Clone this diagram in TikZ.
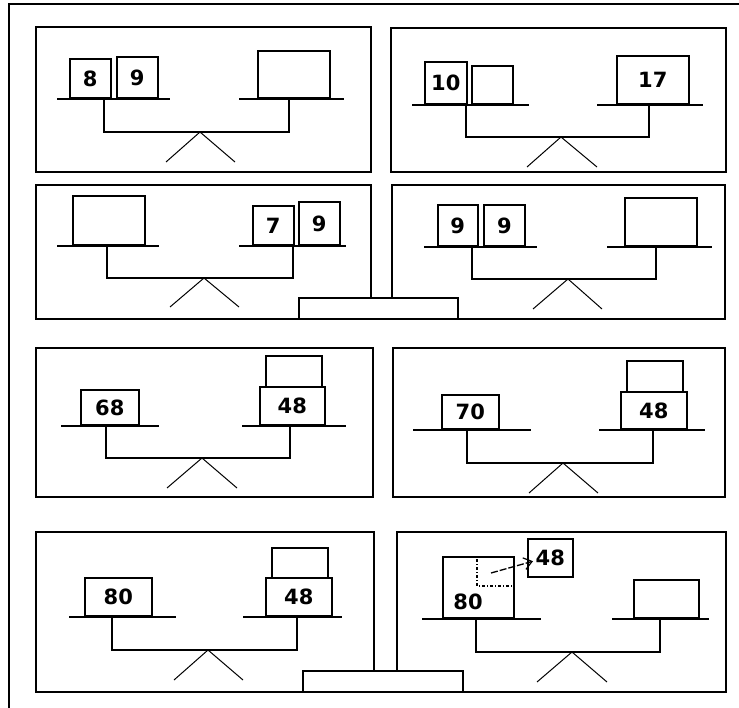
\documentclass[tikz,border=0pt]{standalone}
\usepackage{fontspec}
\newfontfamily\numfont{DejaVu Sans}
\usetikzlibrary{arrows.meta}
\begin{document}
\begin{tikzpicture}[x=1pt,y=-1pt,
  frame/.style={line width=1.6pt,line join=miter},
  pan/.style={line width=1.5pt},
  beam/.style={line width=1.6pt},
  leg/.style={line width=1pt},
  wbox/.style={draw,line width=1.6pt,fill=white,inner sep=0pt,anchor=south west,
     font=\numfont\bfseries\fontsize{21}{21}\selectfont},
  num/.style={inner sep=0pt,font=\numfont\bfseries\fontsize{21}{21}\selectfont},
  dotl/.style={line width=1.2pt,dash pattern=on 3pt off 2pt on 1pt off 2pt},
  movearrow/.style={line width=1.3pt,dash pattern=on 7pt off 2pt,-{Straight Barb[length=8pt,width=12pt,line width=1.2pt]}}
]
\useasboundingbox (0,0) rectangle (739,708);
% outer frame
\draw[frame] (9,708) -- (9,4) -- (739,4);
% panels
\draw[frame] (36,27) rectangle (371,172);
\draw[frame] (391,28) rectangle (726,172);
\draw[frame] (36,185) rectangle (371,319);
\draw[frame] (392,185) rectangle (725,319);
\draw[frame] (36,348) rectangle (373,497);
\draw[frame] (393,348) rectangle (725,497);
\draw[frame] (36,532) rectangle (374,692);
\draw[frame] (397,532) rectangle (726,692);
% stands
\draw[frame,fill=white] (299,298) rectangle (458,319);
\draw[frame,fill=white] (303,671) rectangle (463,692);

% ---------- Panel 1
\draw[pan] (57,99) -- (170,99);
\draw[pan] (239,99) -- (344,99);
\draw[beam] (104,99) -- (104,132) -- (289,132) -- (289,99);
\draw[leg] (166,162) -- (200,132) -- (235,162);
\node[wbox,minimum width=41pt,minimum height=39pt] (p1a) at (69,99) {8};
\node[wbox,minimum width=41pt,minimum height=41pt] (p1b) at (116,99) {9};
\node[wbox,minimum width=72pt,minimum height=47pt] (p1c) at (257,99) {};

% ---------- Panel 2
\draw[pan] (412,105) -- (529,105);
\draw[pan] (597,105) -- (703,105);
\draw[beam] (466,105) -- (466,137) -- (649,137) -- (649,105);
\draw[leg] (527,167) -- (561,137) -- (597,167);
\node[wbox,minimum width=42pt,minimum height=42pt] (p2a) at (424,105) {10};
\node[wbox,minimum width=41pt,minimum height=38pt] (p2b) at (471,105) {};
\node[wbox,minimum width=72pt,minimum height=48pt] (p2c) at (616,105) {17};

% ---------- Panel 3
\draw[pan] (57,246) -- (159,246);
\draw[pan] (239,246) -- (346,246);
\draw[beam] (107,246) -- (107,278) -- (293,278) -- (293,246);
\draw[leg] (170,307) -- (204,278) -- (239,307);
\node[wbox,minimum width=72pt,minimum height=49pt] (p3a) at (72,246) {};
\node[wbox,minimum width=41pt,minimum height=39pt] (p3b) at (252,246) {7};
\node[wbox,minimum width=41pt,minimum height=43pt] (p3c) at (298,246) {9};

% ---------- Panel 4
\draw[pan] (424,247) -- (537,247);
\draw[pan] (607,247) -- (712,247);
\draw[beam] (472,247) -- (472,279) -- (656,279) -- (656,247);
\draw[leg] (533,309) -- (568,279) -- (602,309);
\node[wbox,minimum width=40pt,minimum height=41pt] (p4a) at (437,247) {9};
\node[wbox,minimum width=41pt,minimum height=41pt] (p4b) at (483,247) {9};
\node[wbox,minimum width=72pt,minimum height=48pt] (p4c) at (624,247) {};

% ---------- Panel 5
\draw[pan] (61,426) -- (159,426);
\draw[pan] (242,426) -- (346,426);
\draw[beam] (106,426) -- (106,458) -- (290,458) -- (290,426);
\draw[leg] (167,488) -- (202,458) -- (237,488);
\node[wbox,minimum width=58pt,minimum height=35pt] (p5a) at (80,426) {68};
\node[wbox,minimum width=65pt,minimum height=38pt] (p5b) at (259,426) {48};
\node[wbox,minimum width=56pt,minimum height=31pt] (p5c) at (265,388) {};

% ---------- Panel 6
\draw[pan] (413,430) -- (531,430);
\draw[pan] (599,430) -- (705,430);
\draw[beam] (467,430) -- (467,463) -- (653,463) -- (653,430);
\draw[leg] (529,493) -- (563,463) -- (598,493);
\node[wbox,minimum width=57pt,minimum height=34pt] (p6a) at (441,430) {70};
\node[wbox,minimum width=66pt,minimum height=37pt] (p6b) at (620,430) {48};
\node[wbox,minimum width=56pt,minimum height=31pt] (p6c) at (626,393) {};

% ---------- Panel 7
\draw[pan] (69,617) -- (176,617);
\draw[pan] (243,617) -- (342,617);
\draw[beam] (112,617) -- (112,650) -- (297,650) -- (297,617);
\draw[leg] (174,680) -- (208,650) -- (243,680);
\node[wbox,minimum width=67pt,minimum height=38pt] (p7a) at (84,617) {80};
\node[wbox,minimum width=66pt,minimum height=38pt] (p7b) at (265,617) {48};
\node[wbox,minimum width=56pt,minimum height=30pt] (p7c) at (271,579) {};

% ---------- Panel 8
\draw[pan] (422,619) -- (541,619);
\draw[pan] (612,619) -- (709,619);
\draw[beam] (476,619) -- (476,652) -- (660,652) -- (660,619);
\draw[leg] (537,682) -- (572,652) -- (607,682);
\node[wbox,minimum width=71pt,minimum height=61pt] (p8a) at (442,619) {};
\node[num] (p8t) at (468,602) {80};
\draw[dotl] (477,559) -- (477,586) -- (512,586);
\node[wbox,minimum width=45pt,minimum height=38pt] (p8s) at (527,578) {48};
\node[wbox,minimum width=65pt,minimum height=38pt] (p8c) at (633,619) {};
\coordinate (p8from) at (491,573);
\draw[movearrow] (p8from) -- ([xshift=6pt,yshift=-3pt]p8s.west);
\end{tikzpicture}
\end{document}
